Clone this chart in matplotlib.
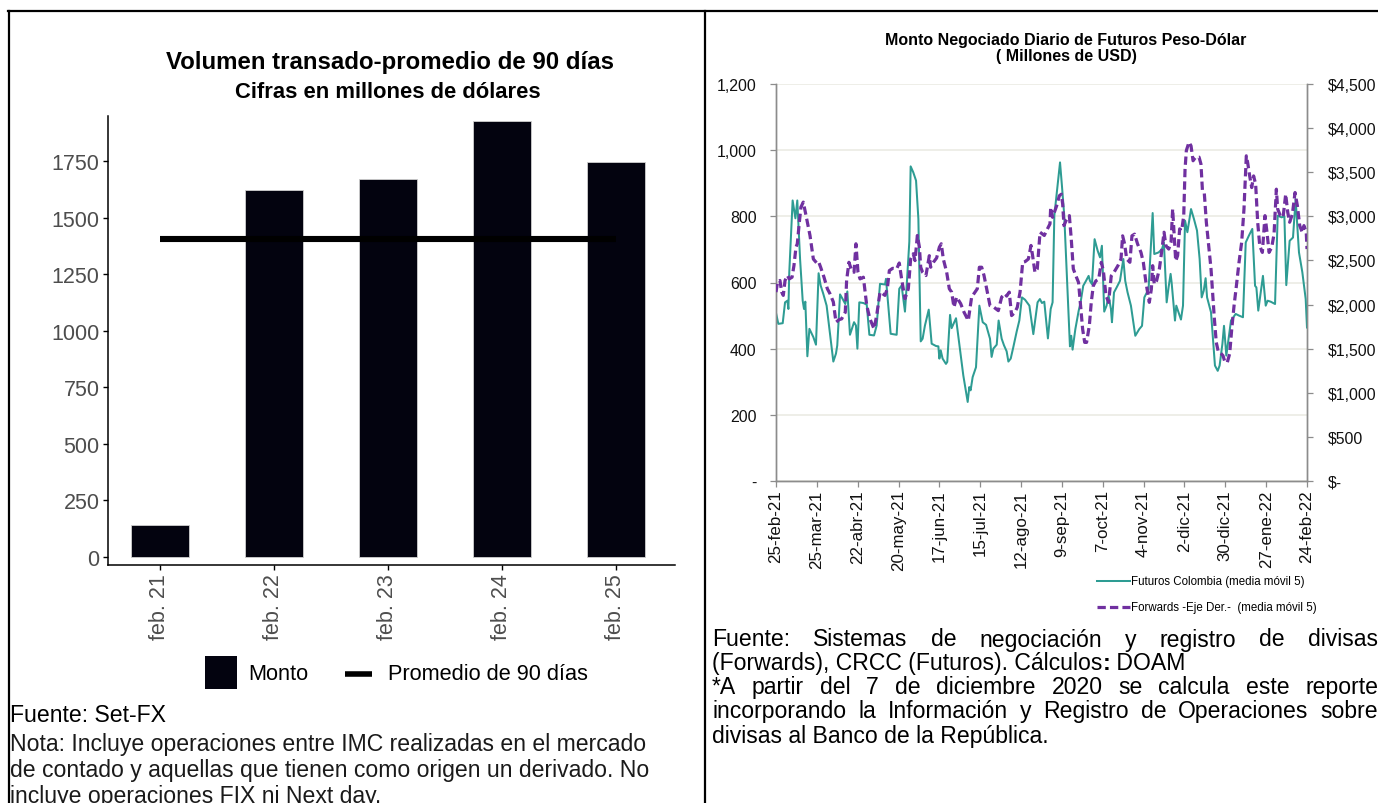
import numpy as np
import pandas as pd
import matplotlib
matplotlib.use('Agg')
import matplotlib.pyplot as plt
from matplotlib import font_manager as fm
from matplotlib.lines import Line2D
from matplotlib.patches import Rectangle

# ------------------------------------------------------------------ data
# Left chart: Volumen transado - promedio de 90 dias
bar_labels = ['feb. 21', 'feb. 22', 'feb. 23', 'feb. 24', 'feb. 25']
bar_values = [140, 1621, 1670, 1926, 1745]
avg_90 = 1405
left_yticks = [0, 250, 500, 750, 1000, 1250, 1500, 1750]

# Right chart: days counted from 25-feb-21
start_date = '2021-02-25'
fut_days = [0, 1.6, 4.6, 6.2, 7.8, 8.5, 9.1, 11.4, 13.3, 14.6, 16.5, 18.3, 19.2, 20.1, 21.5, 22.9,
            25.6, 27.4, 29.2, 30.6, 32.4, 34.7, 39.3, 41.1, 42.0, 43.9, 45.7, 47.5, 48.9, 50.7,
            53.5, 54.8, 55.8, 57.1, 59.9, 62.2, 64.0, 67.2, 69.0, 71.3, 74.7, 75.4, 78.6, 82.7,
            84.5, 86.1, 88.4, 89.6, 91.4, 92.3, 94.1, 96.0, 97.6, 99.2, 100.5, 102.1, 104.7,
            106.7, 109.7, 111.3, 112.0, 112.9, 114.2, 116.5, 117.4, 119.3, 120.4, 123.4, 128.4,
            131.4, 132.5, 133.4, 134.8, 137.1, 139.4, 141.7, 144.0, 146.7, 147.8, 149.0, 151.3,
            152.6, 154.7, 156.3, 158.1, 159.3, 160.9, 162.7, 165.0, 166.8, 168.6, 170.7, 173.7,
            175.3, 176.4, 179.3, 180.9, 182.3, 183.9, 186.4, 188.3, 189.6, 190.8, 194.7, 196.0,
            197.6, 199.2, 200.6, 201.5, 202.4, 203.3, 205.2, 207.5, 208.8, 210.6, 212.5, 214.3,
            215.2, 216.6, 218.4, 220.5, 222.1, 223.4, 225.0, 226.6, 228.0, 229.6, 230.3, 231.7,
            233.5, 235.8, 238.1, 239.4, 241.0, 243.3, 246.3, 249.0, 250.9, 252.5, 255.4, 258.2,
            259.3, 262.3, 264.6, 265.9, 267.8, 269.1, 270.5, 271.2, 273.5, 274.4, 277.6, 279.0,
            280.4, 282.0, 284.5, 286.5, 288.6, 290.4, 291.8, 293.2, 294.5, 295.5, 298.2, 300.9,
            302.8, 304.1, 306.0, 307.1, 308.7, 310.5, 311.9, 315.1, 317.4, 320.1, 322.0, 324.2,
            326.5, 328.4, 329.3, 330.6, 333.8, 335.7, 337.0, 339.1, 342.1, 343.9, 346.6, 348.5,
            349.8, 352.1, 354.4, 356.2, 358.5, 360.8, 363.1, 364.0]
fut_vals = [508, 475, 477, 540, 545, 520, 631, 848, 794, 848, 671, 545, 520, 542, 377, 460,
            435, 412, 628, 591, 566, 530, 361, 385, 410, 564, 550, 535, 573, 442,
            480, 470, 400, 540, 538, 533, 442, 440, 470, 596, 594, 611, 445, 442,
            581, 591, 512, 591, 724, 951, 933, 908, 792, 422, 430, 470, 518,
            415, 408, 407, 370, 395, 370, 354, 360, 502, 462, 492, 319,
            239, 284, 274, 314, 344, 530, 480, 472, 430, 375, 400, 412,
            485, 430, 410, 392, 361, 370, 405, 452, 485, 555, 548, 530,
            480, 444, 540, 550, 538, 542, 431, 520, 540, 802, 963, 893,
            802, 641, 500, 407, 439, 397, 459, 515, 540, 590, 605, 620,
            605, 595, 731, 696, 676, 711, 512, 530, 560, 520, 480, 570,
            585, 605, 671, 605, 570, 530, 439, 459, 469, 555, 580, 810,
            686, 691, 701, 721, 540, 585, 626, 600, 485, 530, 488, 530,
            787, 752, 822, 792, 757, 671, 555, 575, 613, 555, 510, 349,
            333, 349, 414, 469, 379, 440, 485, 505, 500, 495, 721, 742,
            762, 590, 585, 515, 620, 530, 545, 542, 535, 802, 797, 800,
            592, 726, 736, 852, 691, 631, 550, 464]

fwd_days = [0, 1.1, 2.7, 3.9, 5.0, 6.2, 7.8, 9.1, 11.0, 12.3, 13.7, 14.6, 16.0, 17.1, 18.7, 20.6,
            23.3, 25.6, 27.9, 29.2, 30.6, 32.9, 35.2, 37.0, 39.3, 41.1, 43.4, 45.0, 47.5, 48.4,
            50.0, 51.9, 53.5, 54.8, 56.2, 57.6, 59.9, 62.2, 64.4, 67.2, 69.0, 71.3, 73.1, 74.7,
            76.3, 77.7, 80.0, 82.7, 84.5, 86.1, 88.4, 90.7, 92.3, 94.1, 95.3, 96.9, 98.3, 99.2,
            100.5, 102.8, 105.1, 106.0, 107.9, 110.1, 112.0, 113.3, 114.7, 117.0, 118.8, 120.4,
            122.0, 123.8, 126.6, 128.9, 131.8, 134.1, 136.4, 138.0, 139.4, 141.0, 142.6, 144.4,
            146.7, 149.4, 152.4, 154.7, 157.0, 158.1, 159.9, 161.5, 163.8, 165.4, 167.3, 169.1,
            170.7, 173.0, 174.8, 175.9, 177.5, 179.1, 181.0, 183.9, 185.5, 187.8, 188.3, 189.6,
            190.8, 192.4, 194.2, 195.6, 196.5, 197.4, 198.8, 201.1, 202.4, 203.8, 205.6, 207.4,
            208.8, 210.2, 211.6, 212.9, 214.8, 216.1, 217.5, 219.3, 221.2, 223.0, 224.4, 226.2,
            228.0, 229.8, 231.7, 234.4, 236.5, 237.6, 239.0, 240.4, 242.6, 244.0, 245.8, 247.9,
            250.2, 251.8, 253.6, 255.9, 257.3, 258.2, 259.3, 260.9, 262.8, 264.6, 266.0, 267.3,
            269.2, 270.8, 271.9, 274.0, 275.3, 276.7, 278.1, 279.5, 280.4, 281.3, 283.1, 284.5,
            285.9, 287.7, 290.0, 291.3, 292.3, 293.6, 295.0, 296.8, 298.2, 299.1, 300.5, 301.8,
            303.2, 304.8, 306.4, 307.8, 309.4, 311.0, 312.4, 314.0, 315.6, 317.4, 319.2, 320.8,
            322.4, 323.3, 324.7, 326.1, 327.4, 328.8, 330.2, 331.6, 333.4, 335.2, 336.6, 338.0,
            339.8, 341.4, 343.0, 343.9, 345.7, 347.6, 349.4, 350.8, 352.1, 354.0, 355.8, 357.4,
            359.0, 360.8, 361.9, 363.5, 364.0]
fwd_vals = [2141, 2261, 2273, 2141, 2104, 2273, 2329, 2291, 2310, 2441, 2651, 2689, 2933, 3105, 3161, 3008,
            2783, 2516, 2471, 2486, 2423, 2310, 2179, 2123, 2029, 1800, 1830, 1838, 1913, 2273,
            2479, 2385, 2366, 2689, 2366, 2291, 2310, 1988, 1838, 1725, 1875, 2141, 2123, 2104,
            2179, 2385, 2411, 2404, 2471, 2291, 2066, 2179, 2516, 2576, 2498, 2783, 2651, 2423,
            2366, 2329, 2554, 2423, 2479, 2528, 2651, 2689, 2516, 2366, 2179, 2141,
            1969, 2085, 2010, 1913, 1819, 2085, 2141, 2179, 2423, 2423, 2329, 2179,
            1988, 1969, 1931, 2085, 2123, 2096, 2141, 1875, 1913, 1969, 2141, 2479,
            2486, 2516, 2670, 2554, 2366, 2404, 2820, 2783, 2839, 2914, 3101, 2989,
            3045, 3120, 3233, 3251, 3139, 2895, 2951, 3008, 2741, 2404, 2325, 2250,
            1988, 1721, 1571, 1571, 1763, 2025, 2213, 2269, 2288, 2479, 2385, 2100,
            2025, 2325, 2366, 2441, 2516, 2779, 2685, 2516, 2479, 2779, 2798, 2685,
            2591, 2479, 2250, 2025, 2175, 2441, 2231, 2269, 2404, 2629, 2820, 2666,
            2629, 2704, 3083, 2494, 2554, 2858, 2839, 3008, 3536, 3746, 3840, 3799,
            3630, 3671, 3671, 3593, 3300, 3263, 2933, 2629, 2404, 2175, 1838, 1571,
            1466, 1451, 1421, 1346, 1346, 1444, 1721, 1988, 2213, 2479, 2704, 3083,
            3686, 3611, 3458, 3326, 3458, 3364, 2933, 2666, 2591, 3008, 2816, 2591,
            2648, 2798, 3308, 3083, 3008, 2989, 3251, 3045, 2933, 3026, 3270, 3120,
            2895, 2816, 2895, 2816, 2629]

xtick_labels = ['25-feb-21', '25-mar-21', '22-abr-21', '20-may-21', '17-jun-21', '15-jul-21',
                '12-ago-21', '9-sep-21', '7-oct-21', '4-nov-21', '2-dic-21', '30-dic-21',
                '27-ene-22', '24-feb-22']
left2_ticks = [0, 200, 400, 600, 800, 1000, 1200]
right2_ticks = [0, 500, 1000, 1500, 2000, 2500, 3000, 3500, 4000, 4500]

# ------------------------------------------------------------------ setup
W, H = 1378, 804
fig = plt.figure(figsize=(W / 100, H / 100), dpi=100)
fig.patch.set_facecolor('white')
R = fig.canvas.get_renderer()

names = {f.name for f in fm.fontManager.ttflist}
BASE = 'Liberation Sans' if 'Liberation Sans' in names else 'DejaVu Sans'
NARROW = 'Liberation Sans Narrow' if 'Liberation Sans Narrow' in names else BASE
plt.rcParams['font.family'] = [BASE, 'DejaVu Sans']


def fx(x):
    return x / W


def fy(y):
    return 1 - y / H


def fit_text(x, y, s, target_w, size0=12, **kw):
    t = fig.text(fx(x), fy(y), s, fontsize=size0, **kw)
    w = t.get_window_extent(renderer=R).width
    t.set_fontsize(size0 * target_w / w)
    return t


def text_width(s, size, **kw):
    t = fig.text(0, 0, s, fontsize=size, **kw)
    w = t.get_window_extent(renderer=R).width
    t.remove()
    return w


def justify(x0, x1, y, s, size, **kw):
    words = s.split()
    widths = [text_width(w_, size, **kw) for w_ in words]
    gap = (x1 - x0 - sum(widths)) / (len(words) - 1)
    x = x0
    for w_, ww in zip(words, widths):
        fig.text(fx(x), fy(y), w_, fontsize=size, va='center', ha='left', **kw)
        x += ww + gap


# ------------------------------------------------------------------ table borders
for (x0, y0, x1, y1) in [(8, 12, 1378, 12), (9, 12, 9, 804), (705, 12, 705, 804)]:
    fig.add_artist(Line2D([fx(x0), fx(x1)], [fy(y0), fy(y1)], color='black', lw=1.6,
                          transform=fig.transFigure))

# ------------------------------------------------------------------ left chart
ax1 = fig.add_axes([fx(108), fy(566), (675 - 108) / W, (566 - 117) / H])
xpos = np.arange(len(bar_labels))
ax1.bar(xpos, bar_values, width=0.51, color='#03030F', edgecolor='#CFCFCF', linewidth=0.6, zorder=2)
ax1.plot([xpos[0], xpos[-1]], [avg_90, avg_90], color='black', lw=4.4, solid_capstyle='butt', zorder=3)
ax1.set_xlim(-0.456, 4.52)
ax1.set_ylim(-35.4, 1949)
ax1.set_yticks(left_yticks)
ax1.set_yticklabels([str(v) for v in left_yticks])
ax1.set_xticks(xpos)
ax1.set_xticklabels(bar_labels, rotation=90, va='top', ha='center')
for s in ['top', 'right']:
    ax1.spines[s].set_visible(False)
for s in ['left', 'bottom']:
    ax1.spines[s].set_linewidth(1.1)
    ax1.spines[s].set_color('black')
ax1.tick_params(axis='both', length=3.5, width=1.0, color='black', labelcolor='#4D4D4D',
                labelsize=15.5, pad=2.5)

fit_text(390, 62, 'Volumen transado-promedio de 90 días', 445, ha='center', va='center',
         fontweight='bold', color='black')
fit_text(388, 92, 'Cifras en millones de dólares', 303, ha='center', va='center',
         fontweight='bold', color='black')

# legend (left)
fig.add_artist(Rectangle((fx(205), fy(690)), 32 / W, 33 / H, transform=fig.transFigure,
                         facecolor='#03030F', edgecolor='none'))
tl = fit_text(388, 675, 'Promedio de 90 días', 202, ha='left', va='center', color='black')
fig.text(fx(248), fy(675), 'Monto', fontsize=tl.get_fontsize(), ha='left', va='center', color='black')
fig.add_artist(Line2D([fx(345), fx(372)], [fy(675), fy(675)], color='black', lw=4.0,
                      solid_capstyle='butt', transform=fig.transFigure))

# notes (left)
tn = fit_text(10, 771, 'de contado y aquellas que tienen como origen un derivado. No', 642,
              ha='left', va='center', color='#1a1a1a', family=[NARROW, 'DejaVu Sans'])
ns = tn.get_fontsize()
fig.text(fx(10), fy(716), 'Fuente: Set-FX', fontsize=ns, ha='left', va='center', color='black',
         family=[NARROW, 'DejaVu Sans'])
fig.text(fx(10), fy(745), 'Nota: Incluye operaciones entre IMC realizadas en el mercado', fontsize=ns,
         ha='left', va='center', color='#1a1a1a', family=[NARROW, 'DejaVu Sans'])
fig.text(fx(10), fy(797), 'incluye operaciones FIX ni Next day.', fontsize=ns,
         ha='left', va='center', color='#1a1a1a', family=[NARROW, 'DejaVu Sans'])

# ------------------------------------------------------------------ right chart
t0 = pd.Timestamp(start_date)
fut_dates = t0 + pd.to_timedelta(fut_days, unit='D')
fwd_dates = t0 + pd.to_timedelta(fwd_days, unit='D')
tick_dates = pd.date_range(start_date, periods=len(xtick_labels), freq='28D')

ax2 = fig.add_axes([fx(776), fy(482), (1307 - 776) / W, (482 - 85) / H])
ax2r = ax2.twinx()
TEAL = '#2E9C93'
PURP = '#7030A0'
ax2.plot(fut_dates, fut_vals, color=TEAL, lw=1.45, zorder=3)
ax2r.plot(fwd_dates, fwd_vals, color=PURP, lw=2.3, linestyle=(0, (2.6, 1.3)), zorder=3)
ax2.set_xlim(t0, t0 + pd.Timedelta(days=364))
ax2.set_ylim(0, 1200)
ax2r.set_ylim(0, 4500)
ax2.set_yticks(left2_ticks)
ax2.set_yticklabels(['-'] + [f'{v:,}' for v in left2_ticks[1:]])
ax2r.set_yticks(right2_ticks)
ax2r.set_yticklabels(['$-'] + [f'${v:,}' for v in right2_ticks[1:]])
ax2.set_xticks(tick_dates)
ax2.set_xticklabels(xtick_labels, rotation=90, va='top', ha='center')
ax2.grid(axis='y', color='#EAEAE2', lw=1.1)
ax2.set_axisbelow(True)
for a in (ax2, ax2r):
    a.spines['top'].set_visible(False)
    for s in ['left', 'right', 'bottom']:
        a.spines[s].set_color('#8C8C8C')
        a.spines[s].set_linewidth(1.0)
ax2.tick_params(axis='both', length=4, width=0.9, color='#8C8C8C', labelcolor='#111111',
                labelsize=11.4)
ax2.tick_params(axis='x', labelsize=12.2, pad=2)
ax2.tick_params(axis='y', pad=10)
ax2r.tick_params(axis='y', length=4, width=0.9, color='#8C8C8C', labelcolor='#111111',
                 labelsize=11.4, pad=11)

tt = fit_text(1066, 40, 'Monto Negociado Diario de Futuros Peso-Dólar', 359, ha='center', va='center',
              fontweight='bold', color='black')
fig.text(fx(1066), fy(57), '( Millones de USD)', fontsize=tt.get_fontsize(), ha='center', va='center',
         fontweight='bold', color='black')

# legend (right)
tr = fit_text(1131, 582, 'Futuros Colombia (media móvil 5)', 174, ha='left', va='center', color='black')
fig.text(fx(1131), fy(608), 'Forwards -Eje Der.-  (media móvil 5)', fontsize=tr.get_fontsize(),
         ha='left', va='center', color='black')
fig.add_artist(Line2D([fx(1097), fx(1130)], [fy(582), fy(582)], color=TEAL, lw=1.45,
                      transform=fig.transFigure))
fig.add_artist(Line2D([fx(1097), fx(1130)], [fy(608), fy(608)], color=PURP, lw=2.3,
                      linestyle=(0, (2.6, 1.3)), transform=fig.transFigure))

# notes (right)
NK = dict(color='black', family=[NARROW, 'DejaVu Sans'])
tf = fit_text(712, 736, 'divisas al Banco de la República.', 338, ha='left', va='center', **NK)
fs = tf.get_fontsize()
justify(712, 1378, 640, 'Fuente: Sistemas de negociación y registro de divisas', fs, **NK)
part1 = '(Forwards), CRCC (Futuros). Cálculos'
w1 = text_width(part1, fs, **NK)
fig.text(fx(712), fy(664), part1, fontsize=fs, ha='left', va='center', **NK)
fig.text(fx(712 + w1), fy(664), ':', fontsize=fs, ha='left', va='center', fontweight='bold', **NK)
w2 = text_width(':', fs, fontweight='bold', **NK)
fig.text(fx(712 + w1 + w2), fy(664), ' DOAM', fontsize=fs, ha='left', va='center', **NK)
justify(712, 1378, 688, '*A partir del 7 de diciembre 2020 se calcula este reporte', fs, **NK)
justify(712, 1378, 712, 'incorporando la Información y Registro de Operaciones sobre', fs, **NK)

fig.savefig('out.png', dpi=100, facecolor='white')
